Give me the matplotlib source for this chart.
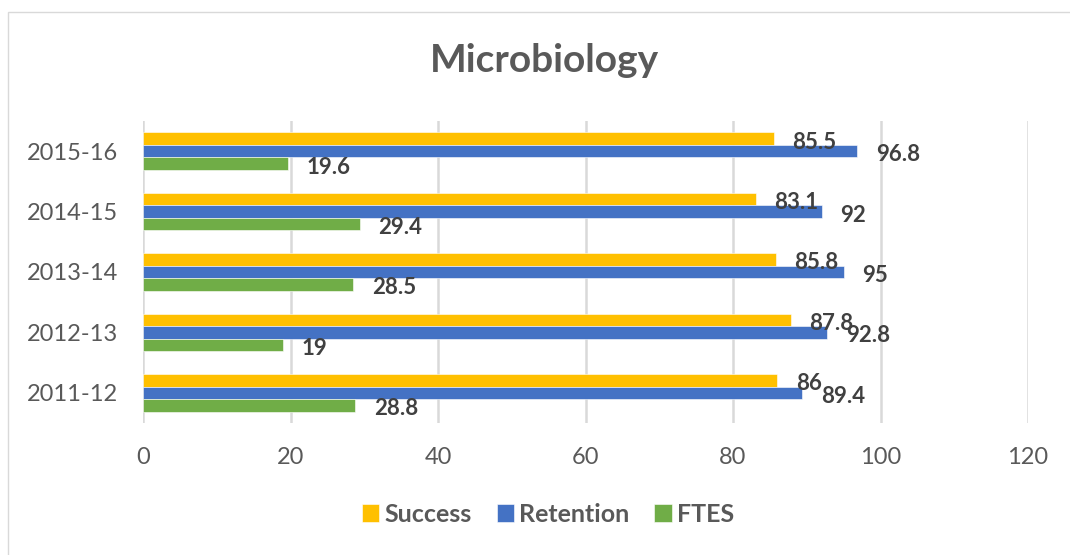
import matplotlib.pyplot as plt
import matplotlib.patches as patches
import numpy as np

plt.rcParams['font.family'] = ['Lato', 'DejaVu Sans']

years = ['2011-12', '2012-13', '2013-14', '2014-15', '2015-16']
success = [86, 87.8, 85.8, 83.1, 85.5]
retention = [89.4, 92.8, 95, 92, 96.8]
ftes = [28.8, 19, 28.5, 29.4, 19.6]

series = [('Success', success, '#FFC000'),
          ('Retention', retention, '#4472C4'),
          ('FTES', ftes, '#70AD47')]

W, H = 1070, 555
fig = plt.figure(figsize=(W / 100, H / 100), dpi=100)
ax = fig.add_axes([143 / W, 1 - 423 / H, 885 / W, 302 / H])

y = np.arange(len(years))
h = 0.207
offsets = [h, 0, -h]

for (name, vals, col), off in zip(series, offsets):
    bars = ax.barh(y + off, vals, height=h, color=col, label=name,
                   edgecolor='white', linewidth=0.4)
    for b, v in zip(bars, vals):
        ax.annotate('{:g}'.format(v), (b.get_width(), b.get_y() + b.get_height() / 2),
                    xytext=(13.5, -2.5), textcoords='offset points',
                    ha='left', va='center', fontsize=16, fontweight='bold',
                    color='#404040')

ax.set_xlim(0, 120)
ax.set_ylim(-0.5, len(years) - 0.5)
ax.set_xticks(np.arange(0, 121, 20))
ax.set_yticks(y)
ax.set_yticklabels(years)
ax.tick_params(length=0, labelsize=17, labelcolor='#595959')
ax.tick_params(axis='y', pad=18)
ax.tick_params(axis='x', pad=17)
ax.xaxis.grid(True, color='#D9D9D9', linewidth=1.8)
ax.set_axisbelow(True)
for s in ax.spines.values():
    s.set_visible(False)

fig.text(544 / W, 1 - 60 / H, 'Microbiology', ha='center', va='center',
         fontsize=28, fontweight='bold', color='#595959')

fig.legend(loc='center', bbox_to_anchor=(548 / W, 1 - 514 / H), ncol=3,
           frameon=False, handlelength=0.7, handleheight=0.7,
           handletextpad=0.2, columnspacing=1.0,
           prop={'size': 18, 'weight': 'bold'}, labelcolor='#595959')

fig.patches.append(patches.Rectangle((8 / W, -0.1), 1.2, 1 - 12 / H + 0.1,
                                     transform=fig.transFigure, fill=False,
                                     edgecolor='#D9D9D9', linewidth=1))

fig.savefig('out.png', dpi=100)
